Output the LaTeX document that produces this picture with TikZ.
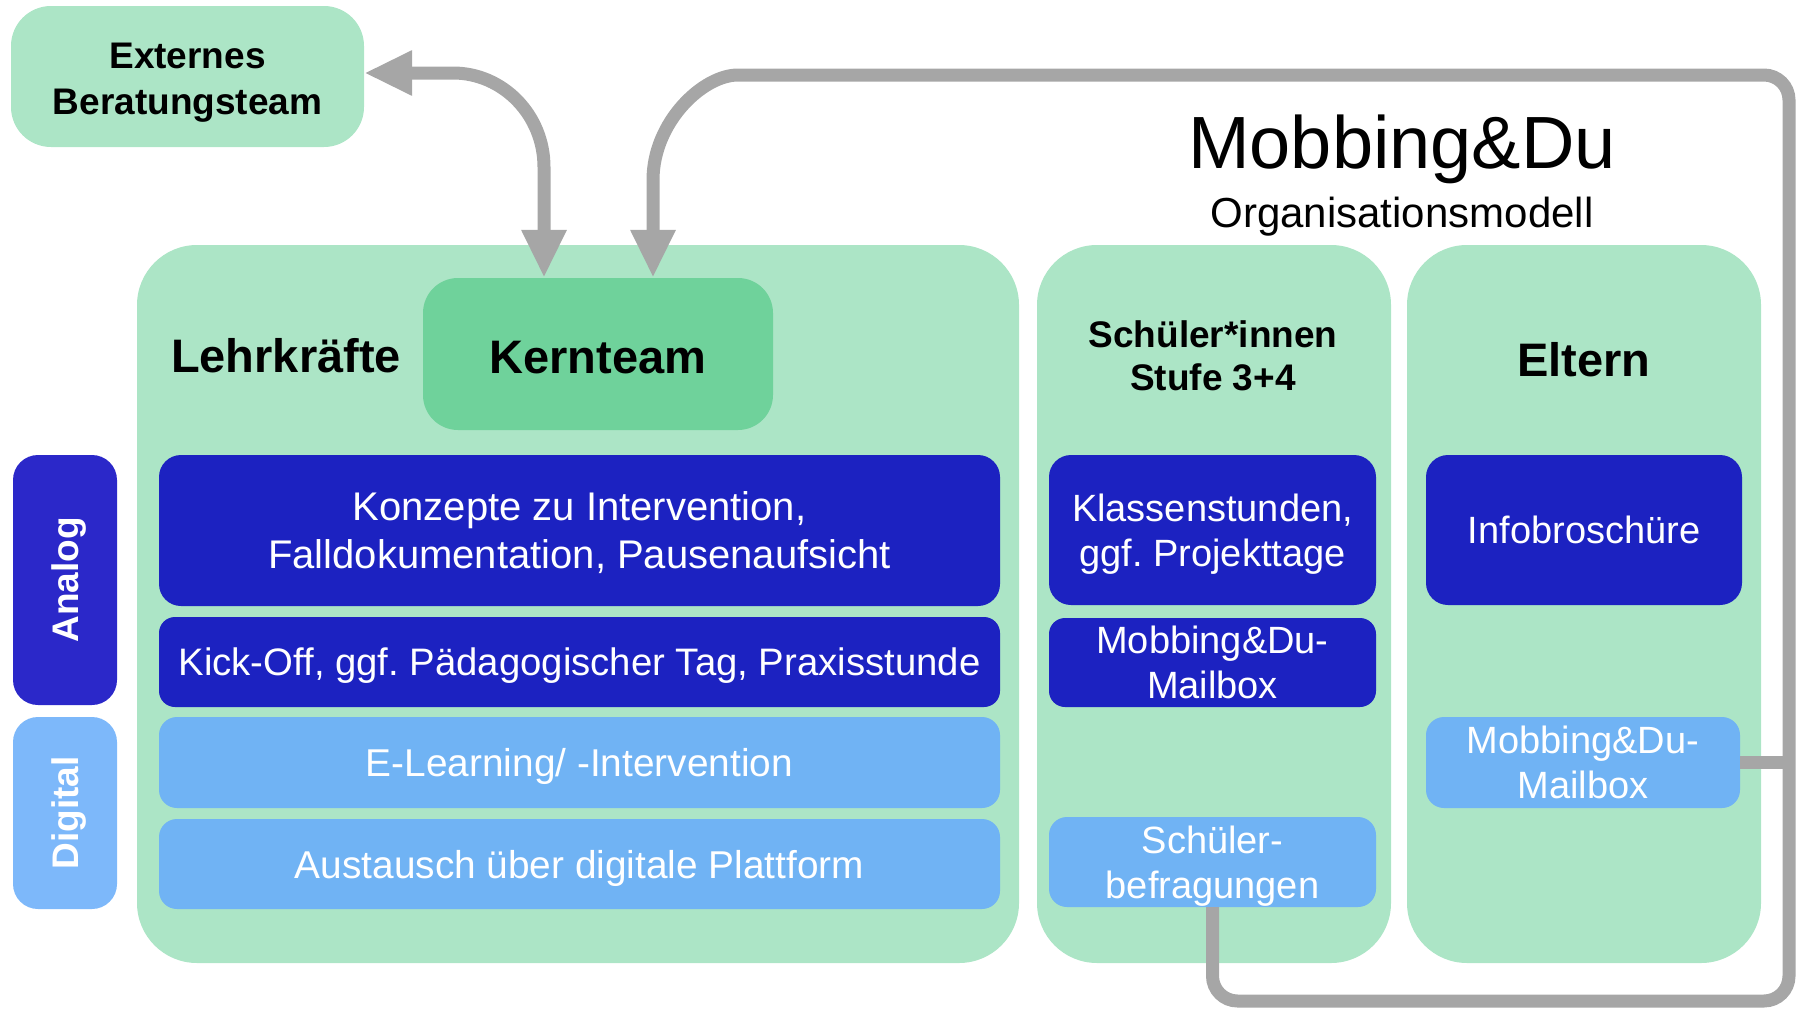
\documentclass[tikz,border=0pt]{standalone}
\usepackage{fontspec}
\setmainfont{Liberation Sans}
\usetikzlibrary{arrows.meta}
\definecolor{panelg}{HTML}{ACE5C6}
\definecolor{kerng}{HTML}{6FD29B}
\definecolor{darkb}{HTML}{1C22C1}
\definecolor{analogb}{HTML}{2B28C9}
\definecolor{lightb}{HTML}{70B3F4}
\definecolor{digib}{HTML}{7DB8FA}
\definecolor{connc}{HTML}{A6A6A6}
\frenchspacing
\begin{document}
\begin{tikzpicture}[x=1pt,y=-1pt,
  panelbox/.style={fill=panelg, rounded corners=60pt, inner sep=0pt},
  dbox/.style={fill=darkb, text=white, rounded corners=22pt, inner sep=0pt, align=center, text depth=0pt},
  lbox/.style={fill=lightb, text=white, rounded corners=18pt, inner sep=0pt, align=center, text depth=0pt},
  lfont/.style={font=\fontsize{39.5}{48}\selectfont},
  sfont/.style={font=\fontsize{38}{45}\selectfont},
  hdr/.style={font=\fontsize{47}{56}\selectfont\bfseries, text=black},
  sidelab/.style={rotate=90, text=white, font=\fontsize{37}{44}\selectfont\bfseries, text depth=0pt},
  conn/.style={draw=connc, line width=13pt}
]
\useasboundingbox (0,0) rectangle (1796,1009);

% panels
\node[panelbox, minimum width=882pt, minimum height=718pt] (lehr) at (578,604) {};
\node[panelbox, minimum width=354pt, minimum height=718pt] (schuel) at (1214,604) {};
\node[panelbox, minimum width=354pt, minimum height=718pt] (eltern) at (1584,604) {};

% external team
\node[fill=panelg, rounded corners=40pt, inner sep=0pt, minimum width=353pt, minimum height=141pt] (extern) at (187.5,76.5) {};
\node[align=center, text depth=0pt, font=\fontsize{37}{46}\selectfont\bfseries] (externt) at (187.5,79) {Externes\\Beratungsteam};

% headers
\node[fill=kerng, rounded corners=35pt, inner sep=0pt, minimum width=350pt, minimum height=152pt] (kern) at (598,354) {};
\node[hdr, anchor=base] (kernt) at (598,373) {Kernteam};
\node[hdr, anchor=base] (lehrlab) at (286,372) {Lehrkräfte};
\node[font=\fontsize{37}{43}\selectfont\bfseries, align=center] (schuellab) at (1213,356) {Schüler*innen\\Stufe 3+4};
\node[hdr, anchor=base] (elternlab) at (1584,376) {Eltern};

% title
\node[font=\fontsize{74}{80}\selectfont, anchor=base] (title) at (1402,168) {Mobbing\&Du};
\node[font=\fontsize{42}{48}\selectfont, anchor=base] (subtitle) at (1402,227) {Organisationsmodell};

% side labels
\node[fill=analogb, rounded corners=25pt, minimum width=104pt, minimum height=250pt, inner sep=0pt] (analog) at (65,580) {};
\node[sidelab] (analogt) at (analog.center) {Analog};
\node[fill=digib, rounded corners=25pt, minimum width=104pt, minimum height=192pt, inner sep=0pt] (digital) at (65,813) {};
\node[sidelab] (digitalt) at (digital.center) {Digital};

% Lehrkräfte boxes
\node[dbox, font=\fontsize{40}{48}\selectfont, minimum width=841pt, minimum height=151pt] (k1) at (579.5,530.5) {Konzepte zu Intervention,\\Falldokumentation, Pausenaufsicht};
\node[dbox, font=\fontsize{38.3}{46}\selectfont, rounded corners=16pt, minimum width=841pt, minimum height=90pt] (k2) at (579.5,662) {Kick-Off, ggf. Pädagogischer Tag, Praxisstunde};
\node[lbox, font=\fontsize{38.8}{46}\selectfont, minimum width=841pt, minimum height=91pt] (k3) at (579.5,762.5) {E-Learning/ -Intervention};
\node[lbox, font=\fontsize{38.8}{46}\selectfont, minimum width=841pt, minimum height=90pt] (k4) at (579.5,864) {Austausch über digitale Plattform};

% Schüler boxes
\node[dbox, sfont, minimum width=327pt, minimum height=150pt] (s1) at (1212.5,530) {Klassenstunden,\\ggf. Projekttage};
\node[dbox, sfont, rounded corners=16pt, minimum width=327pt, minimum height=89pt] (s2) at (1212.5,662.5) {Mobbing\&Du-\\Mailbox};
\node[lbox, sfont, minimum width=327pt, minimum height=90pt] (s3) at (1212.5,862) {Schüler-\\befragungen};

% Eltern boxes
\node[dbox, sfont, minimum width=316pt, minimum height=150pt] (e1) at (1584,530) {Infobroschüre};
\node[lbox, sfont, minimum width=314pt, minimum height=91pt] (e2) at (1583,762.5) {Mobbing\&Du-\\Mailbox};

% connectors
\coordinate (rightx) at (1789,0);
\draw[conn, {Triangle[length=48pt,width=42pt]}-{Triangle[length=48pt,width=42pt]}]
  ([yshift=3.5pt]extern.east) -- (453,73) .. controls (503,73) and (544,115) .. (544,167) -- ([xshift=-54pt]kern.north);
\draw[conn, -{Triangle[length=48pt,width=42pt]}, rounded corners=25pt]
  (s3.south) |- (1789,1001) -- (1789,75) -- (763,75) [sharp corners] .. controls (703,75) and (653,122) .. (653,180) -- ([xshift=55pt]kern.north);
\draw[conn] (e2.east) -- (e2.east -| rightx);
\end{tikzpicture}
\end{document}
